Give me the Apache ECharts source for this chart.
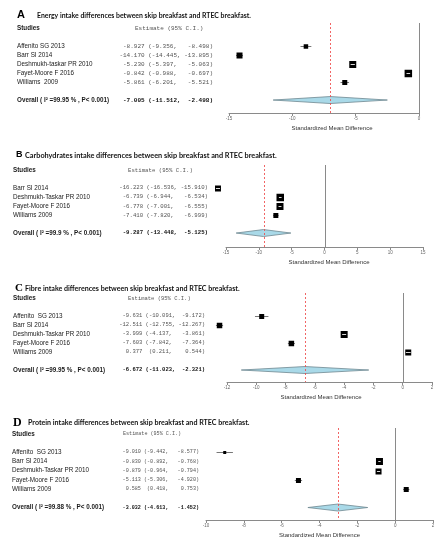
<!DOCTYPE html>
<html>
<head>
<meta charset="utf-8">
<script src="https://cdn.jsdelivr.net/npm/echarts@6/dist/echarts.min.js"></script>
<style>html,body{margin:0;padding:0;background:#fff}#main{width:445px;height:550px}</style>
</head>
<body>
<div id="main"></div>
<script>
// A: energy
var studiesA = ['Affenito SG 2013', 'Barr SI 2014', 'Deshmukh-taskar PR 2010', 'Fayet-Moore F 2016', 'Williams  2009'];
var estA = [-8.927, -14.170, -5.230, -0.842, -5.861];
var lowA = [-9.356, -14.445, -5.397, -0.988, -6.201];
var highA = [-8.498, -13.895, -5.063, -0.697, -5.521];
var weightA = [13.5, 18, 21, 22.5, 15];
var overallA = [-7.005, -11.512, -2.498];
var i2A = '99.95';
var ticksA = [-15, -10, -5, 0];

// B: carbohydrates
var studiesB = ['Barr SI 2014', 'Deshmukh-Taskar PR 2010', 'Fayet-Moore F 2016', 'Williams 2009'];
var estB = [-16.223, -6.739, -6.778, -7.410];
var lowB = [-16.536, -6.944, -7.001, -7.820];
var highB = [-15.910, -6.534, -6.555, -6.999];
var weightB = [18, 22.5, 21, 15];
var overallB = [-9.287, -13.448, -5.125];
var i2B = '99.9';
var ticksB = [-15, -10, -5, 0, 5, 10, 15];

// C: fibre
var studiesC = ['Affenito  SG 2013', 'Barr SI 2014', 'Deshmukh-Taskar PR 2010', 'Fayet-Moore F 2016', 'Williams 2009'];
var estC = [-9.631, -12.511, -3.999, -7.603, 0.377];
var lowC = [-10.091, -12.755, -4.137, -7.842, 0.211];
var highC = [-9.172, -12.267, -3.861, -7.364, 0.544];
var weightC = [15, 16.5, 21, 16.5, 18];
var overallC = [-6.672, -11.023, -2.321];
var i2C = '99.95';
var ticksC = [-12, -10, -8, -6, -4, -2, 0, 2];

// D: protein
var studiesD = ['Affenito  SG 2013', 'Barr SI 2014', 'Deshmukh-Taskar PR 2010', 'Fayet-Moore F 2016', 'Williams 2009'];
var estD = [-9.010, -0.830, -0.879, -5.113, 0.585];
var lowD = [-9.442, -0.892, -0.964, -5.306, 0.418];
var highD = [-8.577, -0.768, -0.794, -4.920, 0.753];
var weightD = [9, 21, 18, 15, 15];
var overallD = [-3.032, -4.613, -1.452];
var i2D = '99.88';
var ticksD = [-10, -8, -6, -4, -2, 0, 2];

var titles = [
  'Energy intake differences between skip breakfast and RTEC breakfast.',
  'Carbohydrates intake differences between skip breakfast and RTEC breakfast.',
  'Fibre intake differences between skip breakfast and RTEC breakfast.',
  'Protein intake differences between skip breakfast and RTEC breakfast.'
];

var panels = [
  {studies: studiesA, est: estA, low: lowA, high: highA, weight: weightA, overall: overallA, i2: i2A, ticks: ticksA},
  {studies: studiesB, est: estB, low: lowB, high: highB, weight: weightB, overall: overallB, i2: i2B, ticks: ticksB},
  {studies: studiesC, est: estC, low: lowC, high: highC, weight: weightC, overall: overallC, i2: i2C, ticks: ticksC},
  {studies: studiesD, est: estD, low: lowD, high: highD, weight: weightD, overall: overallD, i2: i2D, ticks: ticksD}
];

var SANS = '"Liberation Sans", Arial, sans-serif';
var SERIF = '"Liberation Serif", "Times New Roman", serif';
var MONO = '"Liberation Mono", "Courier New", monospace';
var TITLE = 'Lato, "Open Sans", sans-serif';

// pixel layout of each panel
var layout = [
  {letter: 'A', letterFont: 'bold 11px ' + SANS, letterX: 17, letterY: 15, titleX: 37, titleY: 16, titleSize: 6.9,
   left: 229, width: 190, top: 23, height: 90, yMin: -1.56, yMax: 8.44,
   textX: 17, colRight: 213, headX: 135, mono: 6, namePad: [0, 0, 0, 16]},
  {letter: 'B', letterFont: 'bold 9px ' + SANS, letterX: 16, letterY: 155, titleX: 25, titleY: 155.5, titleSize: 7.3,
   left: 226, width: 197, top: 165, height: 82, yMin: -1.55, yMax: 7.55,
   textX: 13, colRight: 208, headX: 128, mono: 5.7, namePad: [0, 0, 0, 9]},
  {letter: 'C', letterFont: 'bold 11px ' + SERIF, letterX: 15, letterY: 288.5, titleX: 25, titleY: 289, titleSize: 7.1,
   left: 227, width: 205, top: 293, height: 89, yMin: -1.55, yMax: 8.33,
   textX: 13, colRight: 205, headX: 128, mono: 5.5, namePad: [0, 17, 0, 0]},
  {letter: 'D', letterFont: 'bold 12px ' + SERIF, letterX: 13, letterY: 423, titleX: 28, titleY: 423, titleSize: 7.1,
   left: 206, width: 227, top: 428, height: 92, yMin: -1.6, yMax: 8.35,
   textX: 12, colRight: 199, headX: 123, mono: 5.1, namePad: [0, 0, 0, 0]}
];

function f3(v) { return v.toFixed(3); }
function ciText(e, l, h) {
  var lo = (l < 0 ? '' : ' ') + '(' + f3(l) + ',';
  return f3(e).padStart(7) + ' ' + lo.padEnd(9) + ' ' + f3(h).padStart(7) + ')';
}

var chart = echarts.init(document.getElementById('main'));
var grids = [], xAxes = [], yAxes = [], series = [], graphics = [];

panels.forEach(function (p, k) {
  var L = layout[k];
  var n = p.studies.length;
  var overallRow = n + 2;

  grids.push({left: L.left, top: L.top, width: L.width, height: L.height});
  xAxes.push({
    type: 'value', gridIndex: k,
    min: p.ticks[0], max: p.ticks[p.ticks.length - 1], interval: p.ticks[1] - p.ticks[0],
    axisLine: {onZero: false, lineStyle: {color: '#8a8a8a', width: 1}},
    axisTick: {length: 3, lineStyle: {color: '#8a8a8a'}},
    axisLabel: {fontSize: 4.5, color: '#666', margin: 3, fontFamily: SANS},
    splitLine: {show: false},
    name: 'Standardized Mean Difference', nameLocation: 'middle', nameGap: 12,
    nameTextStyle: {fontSize: 6, color: '#333', fontFamily: SANS, padding: L.namePad}
  });
  yAxes.push({type: 'value', gridIndex: k, inverse: true, min: L.yMin, max: L.yMax, show: false});

  // zero line and pooled estimate line
  series.push({
    type: 'custom', xAxisIndex: k, yAxisIndex: k, clip: false, z: 3,
    data: [[0, 0], [p.overall[0], 1]],
    renderItem: function (params, api) {
      var x = Math.round(api.coord([api.value(0), L.yMin])[0]) + 0.5;
      var y1 = api.coord([0, L.yMin])[1];
      var y2 = api.coord([0, L.yMax])[1];
      var red = params.dataIndex === 1;
      return {type: 'line', shape: {x1: x, y1: y1, x2: x, y2: y2},
        style: red ? {stroke: '#ef4a4a', lineWidth: 1, lineDash: [2, 2], opacity: 0.85}
                   : {stroke: '#8a8a8a', lineWidth: 1}};
    }
  });

  // pooled diamond
  series.push({
    type: 'custom', xAxisIndex: k, yAxisIndex: k, clip: false, z: 2,
    data: [[p.overall[0], overallRow, p.overall[1], p.overall[2]]],
    renderItem: function (params, api) {
      var c = api.coord([api.value(0), api.value(1)]);
      var a = api.coord([api.value(2), api.value(1)]);
      var b = api.coord([api.value(3), api.value(1)]);
      var h = 3.5;
      return {type: 'polygon', shape: {points: [[a[0], c[1]], [c[0], c[1] - h], [b[0], c[1]], [c[0], c[1] + h]]},
        style: {fill: '#a9d9e8', stroke: '#6f8890', lineWidth: 0.8}};
    }
  });

  // study boxes with CIs
  series.push({
    type: 'custom', xAxisIndex: k, yAxisIndex: k, clip: false, z: 5,
    data: p.est.map(function (e, i) { return [e, i + 1, p.low[i], p.high[i], p.weight[i]]; }),
    renderItem: function (params, api) {
      var row = api.value(1);
      var c = api.coord([api.value(0), row]);
      var a = api.coord([api.value(2), row]);
      var b = api.coord([api.value(3), row]);
      var s = api.value(4) / 3;
      var y = Math.round(c[1]) + 0.5;
      var kids = [
        {type: 'line', shape: {x1: a[0], y1: y, x2: b[0], y2: y}, style: {stroke: '#777', lineWidth: 1}},
        {type: 'rect', shape: {x: c[0] - s / 2, y: y - s / 2, width: s, height: s}, style: {fill: '#000'}}
      ];
      if (b[0] - a[0] < s - 1) {
        kids.push({type: 'line', shape: {x1: a[0], y1: y, x2: b[0], y2: y}, style: {stroke: '#d8d8d8', lineWidth: 1}});
      }
      return {type: 'group', children: kids};
    }
  });

  // table text: header, studies, overall
  var rows = [[0, -0.95]];
  p.studies.forEach(function (s, i) { rows.push([0, i + 1]); });
  rows.push([0, overallRow]);
  series.push({
    type: 'custom', xAxisIndex: k, yAxisIndex: k, clip: false, z: 6,
    data: rows,
    renderItem: function (params, api) {
      var i = params.dataIndex;
      var y = api.coord([0, api.value(1)])[1];
      var left, right, bold = false, rightX = L.colRight, rightAlign = 'right';
      if (i === 0) {
        left = 'Studies'; right = 'Estimate (95% C.I.)'; bold = true;
        rightX = L.headX; rightAlign = 'left';
      } else if (i <= n) {
        left = p.studies[i - 1];
        right = ciText(p.est[i - 1], p.low[i - 1], p.high[i - 1]);
      } else {
        left = 'Overall ( I\u00b2 =' + p.i2 + ' % , P< 0.001)';
        right = ciText(p.overall[0], p.overall[1], p.overall[2]);
        bold = true;
      }
      return {type: 'group', children: [
        {type: 'text', x: L.textX, y: y, style: {text: left, fill: '#1a1a1a',
          font: (bold ? 'bold ' : '') + '6.3px ' + SANS, align: 'left', verticalAlign: 'middle'}},
        {type: 'text', x: rightX, y: y, style: {text: right, fill: (i === n + 1) ? '#111' : '#555',
          font: ((i === n + 1) ? 'bold ' : '') + L.mono + 'px ' + MONO, align: rightAlign, verticalAlign: 'middle'}}
      ]};
    }
  });

  graphics.push({type: 'text', x: L.letterX, y: L.letterY,
    style: {text: L.letter, font: L.letterFont, fill: '#000', verticalAlign: 'middle'}});
  graphics.push({type: 'text', x: L.titleX, y: L.titleY,
    style: {text: titles[k], font: 'bold ' + L.titleSize + 'px ' + TITLE, fill: '#111', verticalAlign: 'middle'}});
});

chart.setOption({
  backgroundColor: '#fff',
  animation: false,
  grid: grids,
  xAxis: xAxes,
  yAxis: yAxes,
  series: series,
  graphic: graphics
});
</script>
</body>
</html>
